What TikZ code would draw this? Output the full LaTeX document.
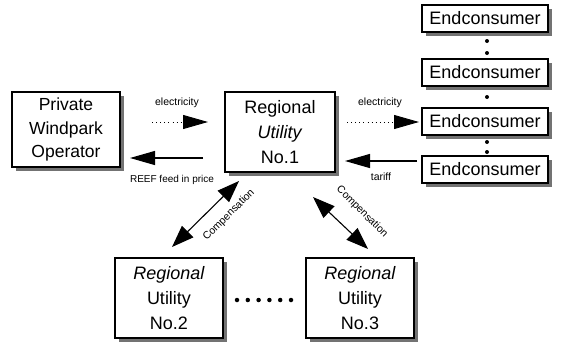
\documentclass[tikz,border=0pt]{standalone}
\usepackage{fontspec}
\setmainfont{Liberation Sans}
\usetikzlibrary{arrows.meta,shadows}
\newcommand\bigfnt{\fontsize{17.5}{23.5}\selectfont}
\newcommand\ecfnt{\fontsize{18}{22}\selectfont}
\newcommand\midfnt{\fontsize{18}{25}\selectfont}
\newcommand\smlfnt{\fontsize{10.5}{12}\selectfont}
\begin{document}
\begin{tikzpicture}[x=1pt,y=-1pt,
  box/.style={draw=black, line width=1.1pt, fill=white, rectangle, inner sep=0pt,
    align=center, drop shadow={shadow xshift=4pt, shadow yshift=-4pt, fill=black!55, opacity=1}},
  bigbox/.style={box, minimum width=108pt, minimum height=78pt},
  ecbox/.style={box, minimum width=126pt, minimum height=27pt, font=\ecfnt},
  head/.style={-{Triangle[length=25pt,width=14pt]}},
  dhead/.style={{Triangle[length=22pt,width=16pt]}-{Triangle[length=22pt,width=16pt]}},
  dotline/.style={line width=0.9pt, dash pattern=on 0.9pt off 3.2pt},
  solidline/.style={line width=1.1pt},
  lbl/.style={font=\smlfnt, inner sep=0pt},
  cdot/.style={circle, fill=black, inner sep=0pt, minimum size=4pt}]
\useasboundingbox (0,0) rectangle (561,343);

% boxes
\node[bigbox, minimum height=75pt, font=\bigfnt] (wp) at (66,129.5) {Private\\Windpark\\Operator};
\node[bigbox, minimum width=110pt, minimum height=80pt, font=\midfnt] (ru1) at (280,132) {Regional\\\textit{Utility}\\No.1};
\node[bigbox, minimum height=80pt, font=\midfnt] (ru2) at (169,298) {\textit{Regional}\\Utility\\No.2};
\node[bigbox, minimum height=80pt, font=\midfnt] (ru3) at (360,298) {\textit{Regional}\\Utility\\No.3};

\node[ecbox] (ec1) at (485,18.5) {Endconsumer};
\node[ecbox] (ec2) at (485,72.5) {Endconsumer};
\node[ecbox] (ec3) at (485,121.5) {Endconsumer};
\node[ecbox] (ec4) at (485,169.5) {Endconsumer};

% dots between endconsumers
\node[cdot] (d1) at (487,41) {};
\node[cdot] (d2) at (487,53) {};
\node[cdot] (d3) at (487,97) {};
\node[cdot] (d4) at (487,142) {};
\node[cdot] (d5) at (487,152) {};

% dots between utilities
\foreach \i in {0,...,5} \node[cdot, minimum size=4.5pt] (r\i) at (237+10.8*\i,300) {};

% connector end points
\coordinate (e1s) at (152,122); \coordinate (e1e) at (208,122);
\coordinate (pfs) at (203,158); \coordinate (pfe) at (130,158);
\coordinate (e2s) at (347,122); \coordinate (e2e) at (419,122);
\coordinate (tfs) at (417,161); \coordinate (tfe) at (345,161);
\coordinate (c1a) at (172,247); \coordinate (c1b) at (239,181);
\coordinate (c2a) at (313,197); \coordinate (c2b) at (368,249);

\draw[dotline, head] (e1s) -- (e1e);
\draw[solidline, head] (pfs) -- (pfe);
\draw[dotline, head] (e2s) -- (e2e);
\draw[solidline, head] (tfs) -- (tfe);
\draw[solidline, dhead] (c1a) -- (c1b);
\draw[solidline, dhead] (c2a) -- (c2b);

% labels
\node[lbl] (l1) at (177,103) {electricity};
\node[lbl, font=\fontsize{10}{12}\selectfont] (l2) at (172,180) {REEF feed in price};
\node[lbl] (l3) at (380,103) {electricity};
\node[lbl] (l4) at (381,177) {tariff};
\node[lbl, rotate=45] (l5) at (229,215) {Compensation};
\node[lbl, rotate=-45] (l6) at (362,212) {Compensation};
\end{tikzpicture}
\end{document}
